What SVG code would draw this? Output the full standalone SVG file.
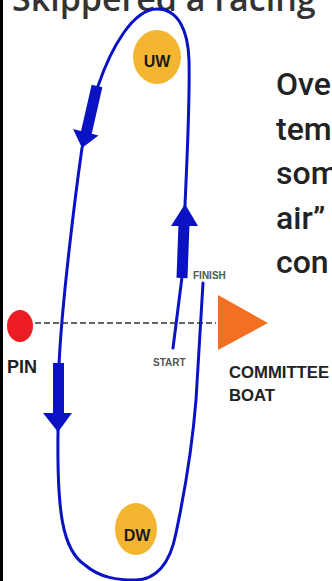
<svg xmlns="http://www.w3.org/2000/svg" width="332" height="581" viewBox="0 0 332 581">
<style>
.route{fill:none;stroke:#0a12c4;stroke-width:3;stroke-linecap:round;stroke-linejoin:round}
.shaft{stroke:#0a12c4;stroke-width:11;stroke-linecap:butt}
.head{fill:#0a12c4}
.mark{fill:#f4b630}
.marklbl{font-family:"Liberation Sans",Arial,sans-serif;font-weight:bold;font-size:16px;fill:#1a1a1a;text-anchor:middle}
.lbl{font-family:"Liberation Sans",Arial,sans-serif;font-weight:bold;fill:#222}
.small{font-family:"Liberation Sans",Arial,sans-serif;font-weight:bold;font-size:10px;fill:#555}
.body{font-family:Roboto,"Open Sans",sans-serif;font-weight:500;font-size:32px;fill:#222}
</style>
<rect x="0" y="0" width="332" height="581" fill="#ffffff"/>
<rect x="0" y="0" width="3" height="581" fill="#000000"/>
<text x="12" y="11" font-family="'Open Sans','Noto Sans',sans-serif" font-weight="600" font-size="34" fill="#333">Skippered a racing</text>

<g id="connectors">
  <line x1="35" y1="323" x2="216" y2="323" stroke="#333" stroke-width="1.6" stroke-dasharray="6 3"/>
  <path class="route" d="M173,348 L182,277 L185,205 C187,160 190,100 189,60 C188,30 178,9 157,9 C133,9 111,48 98,86 L82,148 C76,190 62,300 59,365 L58,432 C57,510 62,550 85,565 C100,578 118,580 135,580 C155,580 170,565 176,533 C183,500 192,450 196,400 L203,283"/>
  <line class="shaft" x1="182" y1="278" x2="184" y2="224"/>
  <polygon class="head" points="171,226 198,226 185,204"/>
  <line class="shaft" x1="97" y1="86" x2="86" y2="134"/>
  <polygon class="head" points="73,129 98.5,135.5 82,148"/>
  <line class="shaft" x1="58.5" y1="363" x2="58.5" y2="415"/>
  <polygon class="head" points="43,413 72,413 58,432"/>
</g>

<g id="uw">
  <ellipse class="mark" cx="157" cy="57" rx="24" ry="27"/>
  <text class="marklbl" x="157" y="67">UW</text>
</g>
<g id="dw">
  <ellipse class="mark" cx="136" cy="529" rx="21" ry="26"/>
  <text class="marklbl" x="137" y="541">DW</text>
</g>
<g id="pin">
  <ellipse cx="20" cy="326" rx="13" ry="16" fill="#ec1c24"/>
  <text class="lbl" x="7" y="373" font-size="18">PIN</text>
</g>
<g id="committee-boat">
  <polygon points="218,295 218,350 268,323" fill="#f36f21"/>
  <text class="lbl" x="229" y="378" font-size="17" textLength="100" lengthAdjust="spacingAndGlyphs">COMMITTEE</text>
  <text class="lbl" x="229" y="401" font-size="17" textLength="46" lengthAdjust="spacingAndGlyphs">BOAT</text>
</g>
<g id="start">
  <text class="small" x="153" y="366">START</text>
</g>
<g id="finish">
  <text class="small" x="193" y="279" font-size="10.5" fill="#666">FINISH</text>
</g>
<g id="note">
  <text class="body" x="276" y="95">Ove</text>
  <text class="body" x="276" y="140">tem</text>
  <text class="body" x="276" y="184">som</text>
  <text class="body" x="276" y="229">air”</text>
  <text class="body" x="276" y="273">con</text>
</g>
</svg>
